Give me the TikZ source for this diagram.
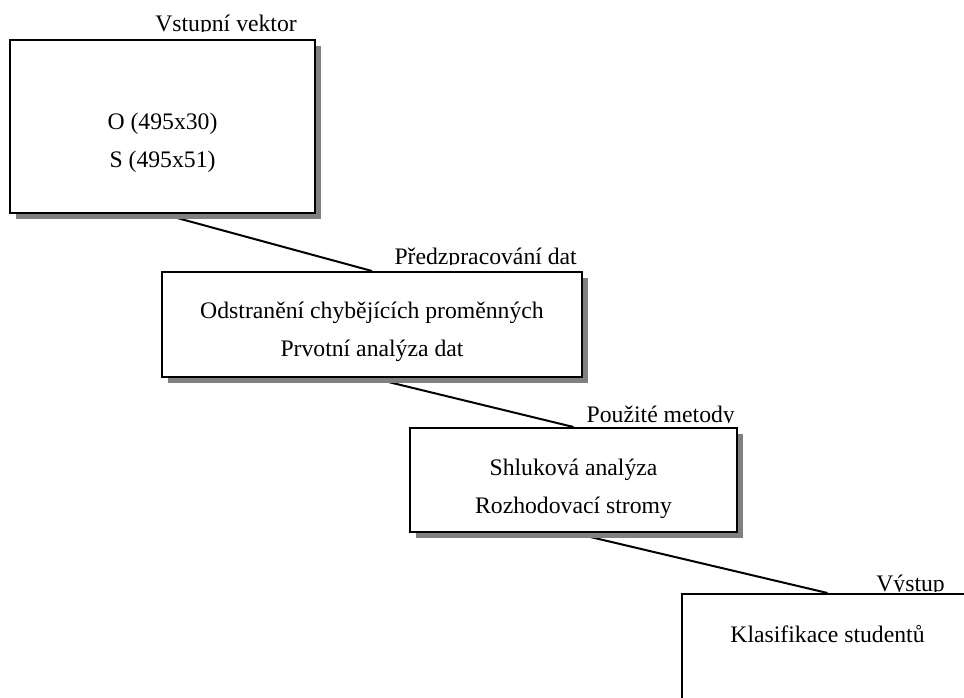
\documentclass[tikz,border=0pt]{standalone}
\usepackage{fontspec}
\setmainfont{Liberation Serif}
\usetikzlibrary{shadows}
\pgfdeclarelayer{bg}
\pgfsetlayers{bg,main}
\begin{document}
\begin{tikzpicture}[x=1pt,y=-1pt,
  every node/.style={font=\fontsize{23.7}{28}\selectfont},
  stage/.style={rectangle, draw=black, line width=2pt, fill=white, inner sep=0pt,
    drop shadow={shadow xshift=6pt, shadow yshift=-6pt, fill=black!50, opacity=1}},
  boxtext/.style={anchor=base, inner sep=0pt},
  caption/.style={anchor=base east, inner sep=0pt},
  link/.style={draw=black, line width=2pt}]

% page
\path[use as bounding box] (0,0) rectangle (964,697);
\clip (0,0) rectangle (964,697);

% stage captions, cut off at the baseline
\begin{scope}
  \clip (140,0) rectangle (320,31);
  \node[caption] (cap1) at (297,31) {Vstupní vektor};
\end{scope}
\begin{scope}
  \clip (380,230) rectangle (590,264);
  \node[caption] (cap2) at (577,264) {Předzpracování dat};
\end{scope}
\begin{scope}
  \clip (575,390) rectangle (745,422);
  \node[caption] (cap3) at (735,422) {Použité metody};
\end{scope}
\begin{scope}
  \clip (865,560) rectangle (960,591);
  \node[caption] (cap4) at (945,591) {Výstup};
\end{scope}

% stage boxes
\node[stage, minimum width=305pt, minimum height=173.5pt] (input) at (162.5,126.25) {};
\node[stage, minimum width=420pt, minimum height=105pt] (prep) at (372,324.5) {};
\node[stage, minimum width=327pt, minimum height=104pt] (methods) at (573.5,480) {};
\node[stage, minimum width=291pt, minimum height=150pt] (output) at (827.5,669) {};

% box contents
\node[boxtext] (in1) at (162.5,129) {O (495x30)};
\node[boxtext] (in2) at (162.5,167) {S (495x51)};
\node[boxtext] (pr1) at (372,318) {Odstranění chybějících proměnných};
\node[boxtext] (pr2) at (372,356) {Prvotní analýza dat};
\node[boxtext] (me1) at (573.5,475) {Shluková analýza};
\node[boxtext] (me2) at (573.5,513) {Rozhodovací stromy};
\node[boxtext] (ou1) at (827.5,642) {Klasifikace studentů};

% white page and connectors behind the boxes
\begin{pgfonlayer}{bg}
  \fill[white] (0,0) rectangle (964,697);
  \draw[link] (input.south) -- (prep.north);
  \draw[link] (prep.south) -- (methods.north);
  \draw[link] (methods.south) -- (output.north);
\end{pgfonlayer}
\end{tikzpicture}
\end{document}
